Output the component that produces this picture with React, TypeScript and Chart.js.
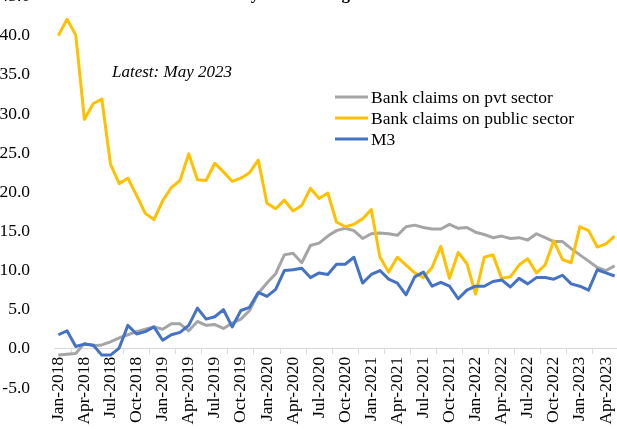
import React, { useEffect, useRef } from "react";
import { Chart, registerables } from "chart.js";

Chart.register(...registerables);

const months: string[] = [
  "Jan-2018", "Feb-2018", "Mar-2018", "Apr-2018", "May-2018", "Jun-2018", "Jul-2018", "Aug-2018", "Sep-2018", "Oct-2018", "Nov-2018", "Dec-2018",
  "Jan-2019", "Feb-2019", "Mar-2019", "Apr-2019", "May-2019", "Jun-2019", "Jul-2019", "Aug-2019", "Sep-2019", "Oct-2019", "Nov-2019", "Dec-2019",
  "Jan-2020", "Feb-2020", "Mar-2020", "Apr-2020", "May-2020", "Jun-2020", "Jul-2020", "Aug-2020", "Sep-2020", "Oct-2020", "Nov-2020", "Dec-2020",
  "Jan-2021", "Feb-2021", "Mar-2021", "Apr-2021", "May-2021", "Jun-2021", "Jul-2021", "Aug-2021", "Sep-2021", "Oct-2021", "Nov-2021", "Dec-2021",
  "Jan-2022", "Feb-2022", "Mar-2022", "Apr-2022", "May-2022", "Jun-2022", "Jul-2022", "Aug-2022", "Sep-2022", "Oct-2022", "Nov-2022", "Dec-2022",
  "Jan-2023", "Feb-2023", "Mar-2023", "Apr-2023", "May-2023",
];

const pvtSector: number[] = [
  -0.8, -0.7, -0.6, 0.7, 0.4, 0.5, 0.9, 1.4, 1.8, 2.2, 2.5, 2.8,
  2.5, 3.2, 3.2, 2.3, 3.5, 3.0, 3.1, 2.6, 3.3, 3.8, 4.9, 7.1,
  8.4, 9.6, 12.0, 12.2, 11.0, 13.2, 13.5, 14.4, 15.1, 15.4, 15.1, 14.1,
  14.7, 14.8, 14.7, 14.5, 15.6, 15.8, 15.5, 15.3, 15.3, 15.9, 15.4, 15.5,
  14.9, 14.6, 14.2, 14.4, 14.1, 14.2, 13.9, 14.7, 14.2, 13.7, 13.7, 12.8,
  12.0, 11.2, 10.4, 10.0, 10.6,
];

const publicSector: number[] = [
  40.0, 42.1, 40.1, 29.3, 31.3, 31.9, 23.6, 21.1, 21.8, 19.6, 17.3, 16.5,
  18.9, 20.6, 21.5, 24.9, 21.6, 21.5, 23.7, 22.6, 21.4, 21.8, 22.5, 24.1,
  18.6, 17.9, 19.0, 17.6, 18.3, 20.5, 19.2, 19.9, 16.2, 15.6, 15.9, 16.6,
  17.8, 11.7, 9.8, 11.7, 10.7, 9.7, 9.1, 10.4, 13.1, 9.0, 12.3, 10.9,
  7.0, 11.7, 12.0, 9.0, 9.2, 10.7, 11.5, 9.7, 10.7, 13.8, 11.4, 11.0,
  15.6, 15.1, 13.0, 13.4, 14.4,
];

const m3: number[] = [
  1.8, 2.3, 0.3, 0.6, 0.5, -0.8, -0.8, 0.1, 3.0, 1.9, 2.2, 2.8,
  1.1, 1.8, 2.1, 3.0, 5.2, 3.8, 4.1, 5.0, 2.8, 4.9, 5.3, 7.2,
  6.7, 7.6, 10.0, 10.1, 10.3, 9.1, 9.7, 9.5, 10.8, 10.8, 11.7, 8.4,
  9.5, 10.0, 8.9, 8.4, 6.9, 9.2, 9.8, 8.0, 8.5, 8.0, 6.4, 7.5,
  8.0, 8.0, 8.6, 8.8, 7.9, 9.0, 8.3, 9.1, 9.1, 8.9, 9.4, 8.3,
  8.0, 7.5, 10.1, 9.7, 9.3,
];

const seriesNames: string[] = ["Bank claims on pvt sector", "Bank claims on public sector", "M3"];
const seriesColors: string[] = ["#A5A5A5", "#FFC000", "#4472C4"];
const titleText = "Monetary and credit growth";
const noteText = "Latest: May 2023";

const SERIF = '"Liberation Serif", "Times New Roman", serif';
const OY = 30; // canvas is shifted up by this many px

const overlayPlugin = {
  id: "overlay",
  afterDraw(chart: any) {
    const ctx = chart.ctx as CanvasRenderingContext2D;
    ctx.save();
    // title (mostly cut off at the top)
    ctx.font = `bold 17px ${SERIF}`;
    ctx.fillStyle = "#000";
    ctx.textBaseline = "alphabetic";
    ctx.textAlign = "left";
    const pre = ctx.measureText("Monetar").width;
    const yw = ctx.measureText("y").width;
    ctx.fillText(titleText, 255 - pre - yw / 2, -1 + OY);

    // note
    ctx.font = `italic 17px ${SERIF}`;
    ctx.fillText(noteText, 112, 77 + OY);

    // legend
    ctx.font = `17.5px ${SERIF}`;
    ctx.textBaseline = "middle";
    chart.data.datasets.forEach((ds: any, i: number) => {
      const y = 97 + 21 * i + OY;
      ctx.strokeStyle = ds.borderColor;
      ctx.lineWidth = 3;
      ctx.lineCap = "butt";
      ctx.beginPath();
      ctx.moveTo(335, y);
      ctx.lineTo(368, y);
      ctx.stroke();
      ctx.fillStyle = "#000";
      ctx.fillText(ds.label, 371, y + 1);
    });
    ctx.restore();
  },
};

export default function App() {
  const ref = useRef<HTMLCanvasElement | null>(null);

  useEffect(() => {
    if (!ref.current) return;
    const series = [pvtSector, publicSector, m3];
    const chart = new Chart(ref.current, {
      type: "line",
      data: {
        labels: months,
        datasets: series.map((d, i) => ({
          label: seriesNames[i],
          data: d,
          borderColor: seriesColors[i],
          backgroundColor: seriesColors[i],
          borderWidth: 3,
          pointRadius: 0,
          tension: 0,
          borderJoinStyle: "round" as const,
          order: 3 - i,
        })),
      },
      options: {
        animation: false,
        responsive: false,
        devicePixelRatio: 1,
        layout: { padding: { left: 0, right: 21, top: 25, bottom: 52 } },
        plugins: { legend: { display: false }, tooltip: { enabled: false }, title: { display: false } },
        scales: {
          x: {
            type: "category",
            position: { y: 0 } as any,
            offset: true,
            grid: {
              display: true,
              drawOnChartArea: false,
              drawTicks: true,
              tickLength: 5,
              offset: true,
              color: "#D9D9D9",
            },
            border: { display: true, color: "#D9D9D9", width: 1 },
            ticks: {
              autoSkip: false,
              maxRotation: 90,
              minRotation: 90,
              padding: 3,
              color: "#000",
              font: { family: SERIF, size: 17.5 },
              callback: (_v: any, i: number) => (i % 3 === 0 ? months[i] : null),
            },
          },
          y: {
            min: -5,
            max: 45,
            grid: { display: false },
            border: { display: false },
            afterFit: (s: any) => {
              s.width = 54;
            },
            ticks: {
              stepSize: 5,
              padding: 16,
              color: "#000",
              font: { family: SERIF, size: 17.5 },
              callback: (v: any) => Number(v).toFixed(1),
            },
          },
        },
      },
      plugins: [overlayPlugin],
    });
    return () => chart.destroy();
  }, []);

  return (
    <div style={{ position: "fixed", left: 0, top: -OY, width: 640, height: 470, background: "#fff" }}>
      <canvas ref={ref} width={640} height={470} style={{ width: 640, height: 470, display: "block" }} />
    </div>
  );
}
